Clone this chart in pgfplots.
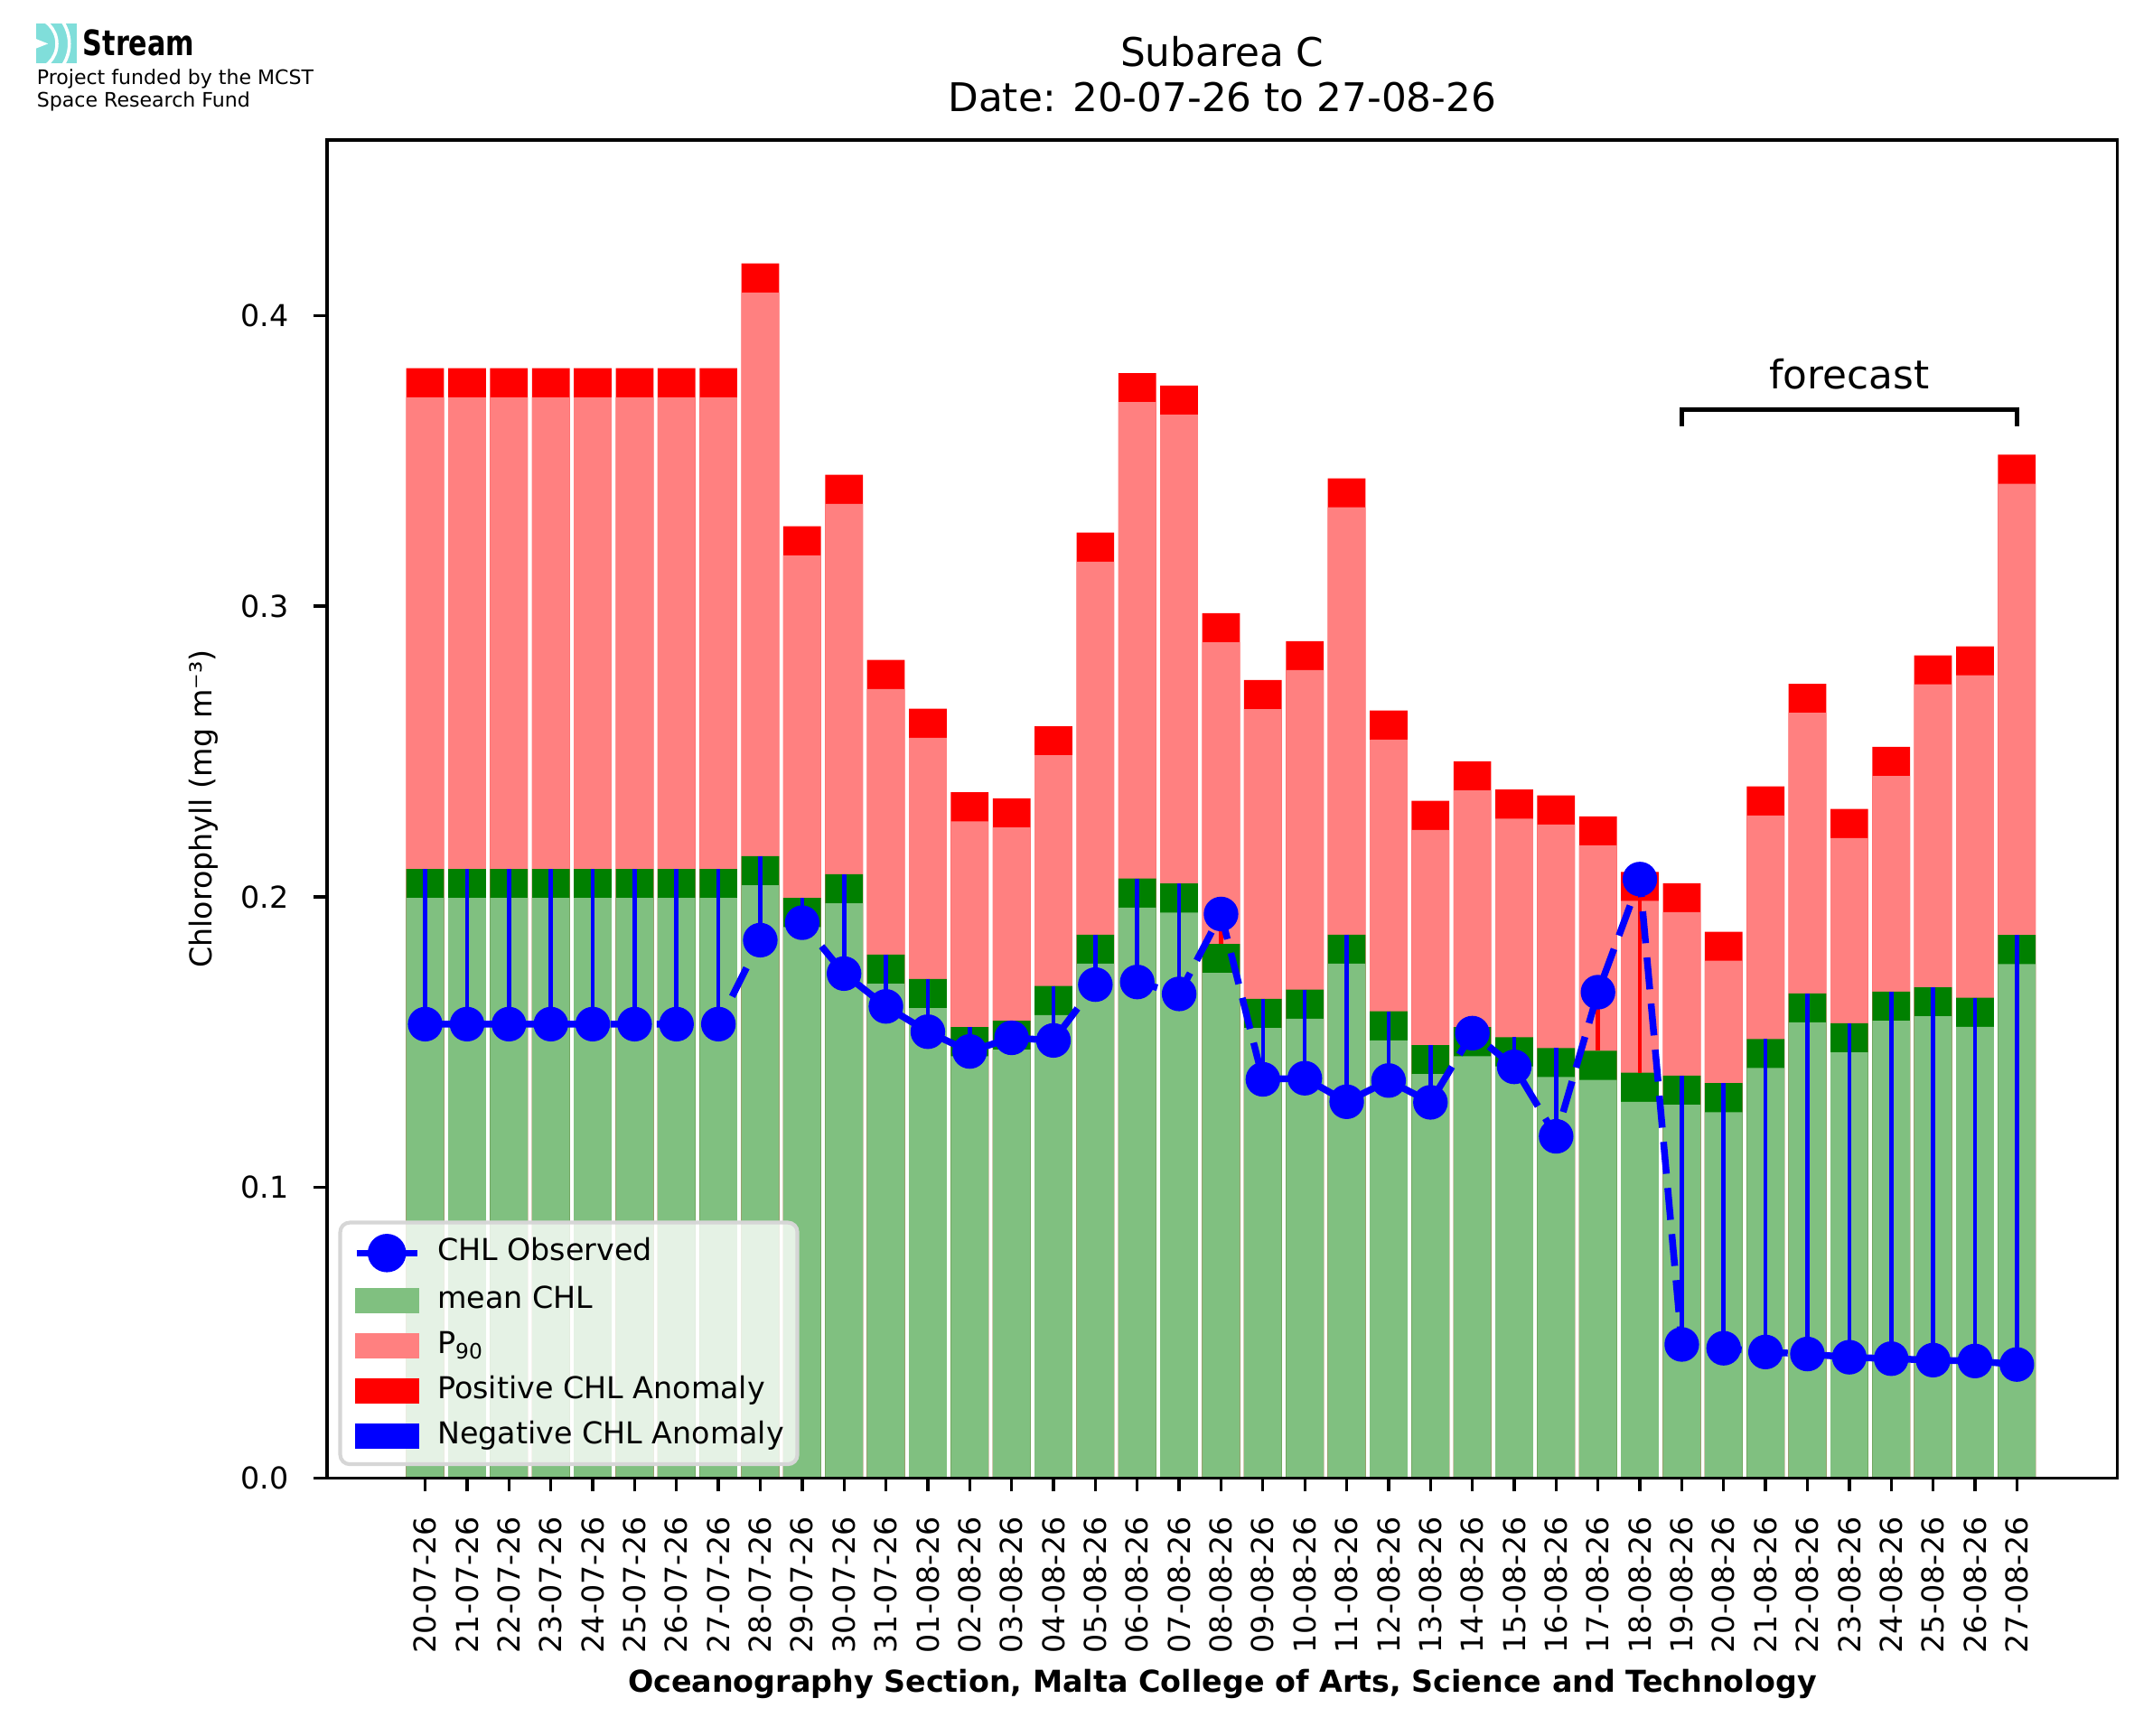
\documentclass[border=0pt]{standalone}
\usepackage{pgfplots}
\pgfplotsset{compat=1.18}
\usepackage{pgfplotstable}
\usepackage{fontspec}
\usepackage{graphicx}
\setmainfont{DejaVu Sans}

\definecolor{lgreen}{RGB}{128,192,128}
\definecolor{dgreen}{RGB}{0,128,0}
\definecolor{lred}{RGB}{255,128,128}
\definecolor{tealc}{RGB}{128,222,218}
\definecolor{legframe}{RGB}{214,214,214}

\newcommand\ftick{\fontsize{8bp}{9.6bp}\selectfont}
\newcommand\ftitle{\fontsize{10.5bp}{12.6bp}\selectfont}

\pgfplotstableread{
x m p obs
0 0.1996 0.3719 0.1562
1 0.1996 0.3719 0.1562
2 0.1996 0.3719 0.1562
3 0.1996 0.3719 0.1562
4 0.1996 0.3719 0.1562
5 0.1996 0.3719 0.1562
6 0.1996 0.3719 0.1562
7 0.1996 0.3719 0.1562
8 0.2040 0.4079 0.1851
9 0.1896 0.3175 0.1911
10 0.1978 0.3352 0.1736
11 0.1701 0.2715 0.1623
12 0.1617 0.2547 0.1536
13 0.1452 0.2260 0.1468
14 0.1474 0.2239 0.1515
15 0.1593 0.2487 0.1506
16 0.1770 0.3153 0.1698
17 0.1963 0.3702 0.1707
18 0.1946 0.3659 0.1666
19 0.1738 0.2876 0.1941
20 0.1549 0.2646 0.1372
21 0.1581 0.2780 0.1376
22 0.1770 0.3340 0.1295
23 0.1506 0.2541 0.1368
24 0.1390 0.2230 0.1293
25 0.1452 0.2366 0.1531
26 0.1417 0.2269 0.1415
27 0.1380 0.2249 0.1176
28 0.1370 0.2177 0.1672
29 0.1295 0.1986 0.2061
30 0.1285 0.1947 0.0460
31 0.1259 0.1780 0.0447
32 0.1411 0.2280 0.0434
33 0.1568 0.2633 0.0427
34 0.1465 0.2202 0.0416
35 0.1574 0.2416 0.0411
36 0.1589 0.2731 0.0406
37 0.1553 0.2762 0.0403
38 0.1769 0.3421 0.0391
}\chl

\begin{document}
\begin{tikzpicture}
\useasboundingbox (-86.88bp,-68.28bp) rectangle (485.04bp,392.76bp);
\begin{axis}[
  scale only axis, width=475.61bp, height=355.56bp,
  xmin=-2.3426, xmax=40.403, ymin=0, ymax=0.4604,
  axis on top,
  axis line style={line width=0.8bp},
  tick align=outside, xtick pos=bottom, ytick pos=left,
  major tick length=3.5bp,
  every tick/.style={black, line width=0.8bp},
  xtick={0,...,38},
  xticklabels={20-07-26,21-07-26,22-07-26,23-07-26,24-07-26,25-07-26,26-07-26,27-07-26,28-07-26,29-07-26,30-07-26,31-07-26,01-08-26,02-08-26,03-08-26,04-08-26,05-08-26,06-08-26,07-08-26,08-08-26,09-08-26,10-08-26,11-08-26,12-08-26,13-08-26,14-08-26,15-08-26,16-08-26,17-08-26,18-08-26,19-08-26,20-08-26,21-08-26,22-08-26,23-08-26,24-08-26,25-08-26,26-08-26,27-08-26},
  ytick={0,0.1,0.2,0.3,0.4},
  yticklabel style={/pgf/number format/fixed, /pgf/number format/fixed zerofill, /pgf/number format/precision=1, /pgf/number format/assume math mode=true, anchor=east, inner sep=0pt},
  tick label style={font=\ftick},
  xticklabel style={rotate=90, anchor=east, inner sep=0pt},
  xticklabel shift=6.5bp, yticklabel shift=6.5bp,
  unbounded coords=jump,
  legend cell align=left,
  legend style={
    at={(0,0)}, anchor=south west, xshift=3bp, yshift=3.2bp,
    fill=white, fill opacity=0.8, draw opacity=1, text opacity=1,
    draw=legframe, line width=1bp, rounded corners=2.5bp,
    inner xsep=3.5bp, inner ysep=3bp,
    font=\ftick, row sep=3bp,
    nodes={inner sep=0pt, text height=6.5bp, text depth=2.5bp},
    /tikz/every odd column/.append style={column sep=4.5bp},
  },
]
\addlegendimage{legend image code/.code={\draw[blue, line width=1.8bp, sharp corners, draw opacity=1] (0bp,0bp) -- (16bp,0bp); \fill[blue, fill opacity=1, sharp corners] (8bp,0bp) circle (4.6bp);}}
\addlegendentry{CHL Observed}
\addlegendimage{legend image code/.code={\fill[lgreen, fill opacity=1, sharp corners] (0bp,-2.8bp) rectangle (16bp,2.8bp);}}
\addlegendentry{mean CHL}
\addlegendimage{legend image code/.code={\fill[lred, fill opacity=1, sharp corners] (0bp,-2.8bp) rectangle (16bp,2.8bp);}}
\addlegendentry{P\textsubscript{90}}
\addlegendimage{legend image code/.code={\fill[red, fill opacity=1, sharp corners] (0bp,-2.8bp) rectangle (16bp,2.8bp);}}
\addlegendentry{Positive CHL Anomaly}
\addlegendimage{legend image code/.code={\fill[blue, fill opacity=1, sharp corners] (0bp,-2.8bp) rectangle (16bp,2.8bp);}}
\addlegendentry{Negative CHL Anomaly}

\addplot[ybar, bar width=0.9, bar shift=0pt, fill=red, draw=none, forget plot] table[x=x, y expr=\thisrow{p}+0.01]{\chl};
\addplot[ybar, bar width=0.9, bar shift=0pt, fill=lred, draw=none, forget plot] table[x=x, y=p]{\chl};
\addplot[ybar, bar width=0.9, bar shift=0pt, fill=dgreen, draw=none, forget plot] table[x=x, y expr=\thisrow{m}+0.01]{\chl};
\addplot[ybar, bar width=0.9, bar shift=0pt, fill=lgreen, draw=none, forget plot] table[x=x, y=m]{\chl};

% negative anomaly segments
\addplot[blue, line width=1.1bp, forget plot] coordinates {
(0,0.2096) (0,0.1562) (0,nan)
(1,0.2096) (1,0.1562) (1,nan)
(2,0.2096) (2,0.1562) (2,nan)
(3,0.2096) (3,0.1562) (3,nan)
(4,0.2096) (4,0.1562) (4,nan)
(5,0.2096) (5,0.1562) (5,nan)
(6,0.2096) (6,0.1562) (6,nan)
(7,0.2096) (7,0.1562) (7,nan)
(8,0.2140) (8,0.1851) (8,nan)
(9,0.1996) (9,0.1911) (9,nan)
(10,0.2078) (10,0.1736) (10,nan)
(11,0.1801) (11,0.1623) (11,nan)
(12,0.1717) (12,0.1536) (12,nan)
(13,0.1552) (13,0.1468) (13,nan)
(14,0.1574) (14,0.1515) (14,nan)
(15,0.1693) (15,0.1506) (15,nan)
(16,0.1870) (16,0.1698) (16,nan)
(17,0.2063) (17,0.1707) (17,nan)
(18,0.2046) (18,0.1666) (18,nan)
(20,0.1649) (20,0.1372) (20,nan)
(21,0.1681) (21,0.1376) (21,nan)
(22,0.1870) (22,0.1295) (22,nan)
(23,0.1606) (23,0.1368) (23,nan)
(24,0.1490) (24,0.1293) (24,nan)
(25,0.1552) (25,0.1531) (25,nan)
(26,0.1517) (26,0.1415) (26,nan)
(27,0.1480) (27,0.1176) (27,nan)
(30,0.1385) (30,0.0460) (30,nan)
(31,0.1359) (31,0.0447) (31,nan)
(32,0.1511) (32,0.0434) (32,nan)
(33,0.1668) (33,0.0427) (33,nan)
(34,0.1565) (34,0.0416) (34,nan)
(35,0.1674) (35,0.0411) (35,nan)
(36,0.1689) (36,0.0406) (36,nan)
(37,0.1653) (37,0.0403) (37,nan)
(38,0.1869) (38,0.0391)
};
% positive anomaly segments
\addplot[red, line width=1.1bp, forget plot] coordinates {
(19,0.1838) (19,0.1941) (19,nan)
(28,0.1470) (28,0.1672) (28,nan)
(29,0.1395) (29,0.2061)
};

% observed
\addplot[blue, line width=1.8bp, dash pattern=on 8.5bp off 3.8bp, mark=*, mark size=4.2bp, mark options={solid, line width=0.8bp, fill=blue}, forget plot] table[x=x, y=obs]{\chl};

% forecast bracket
\addplot[black, line width=1.3bp, line join=miter, forget plot] coordinates {(30,0.3620) (30,0.3677) (38,0.3677) (38,0.3620)};
\node[font=\ftitle, anchor=base] at (axis cs:34,0.3749) {forecast};
\end{axis}

% titles and labels
\node[font=\ftitle, anchor=base] at (237.8bp,375.0bp) {Subarea C};
\node[font=\ftitle, anchor=base] at (237.8bp,363.2bp) {Date: 20-07-26 to 27-08-26};
\node[font=\ftick, rotate=90, anchor=base] at (-30.7bp,177.8bp) {Chlorophyll (mg m⁻³)};
\node[font=\ftick\bfseries, anchor=base] at (237.8bp,-56.8bp) {Oceanography Section, Malta College of Arts, Science and Technology};

% logo
\begin{scope}
\clip (-77.28bp,376.0bp) rectangle (-66.48bp,386.4bp);
\fill[tealc] (-77.28bp,376.0bp) rectangle (-66.48bp,386.4bp);
\draw[white, line width=0.85bp] (-78.96bp,381.14bp) circle (7.2bp);
\draw[white, line width=0.85bp] (-78.96bp,381.14bp) circle (10.5bp);
\fill[white] (-77.28bp,382.4bp) -- (-74.1bp,381.14bp) -- (-77.28bp,379.9bp) -- cycle;
\end{scope}
\node[anchor=base west, inner sep=0pt, font=\fontsize{9.3bp}{11bp}\selectfont\bfseries] at (-65.04bp,377.9bp) {\scalebox{0.78}[1]{Stream}};
\node[anchor=base west, inner sep=0pt, font=\fontsize{5.3bp}{6.4bp}\selectfont] at (-77.28bp,370.4bp) {Project funded by the MCST};
\node[anchor=base west, inner sep=0pt, font=\fontsize{5.3bp}{6.4bp}\selectfont] at (-77.28bp,364.2bp) {Space Research Fund};
\end{tikzpicture}
\end{document}
